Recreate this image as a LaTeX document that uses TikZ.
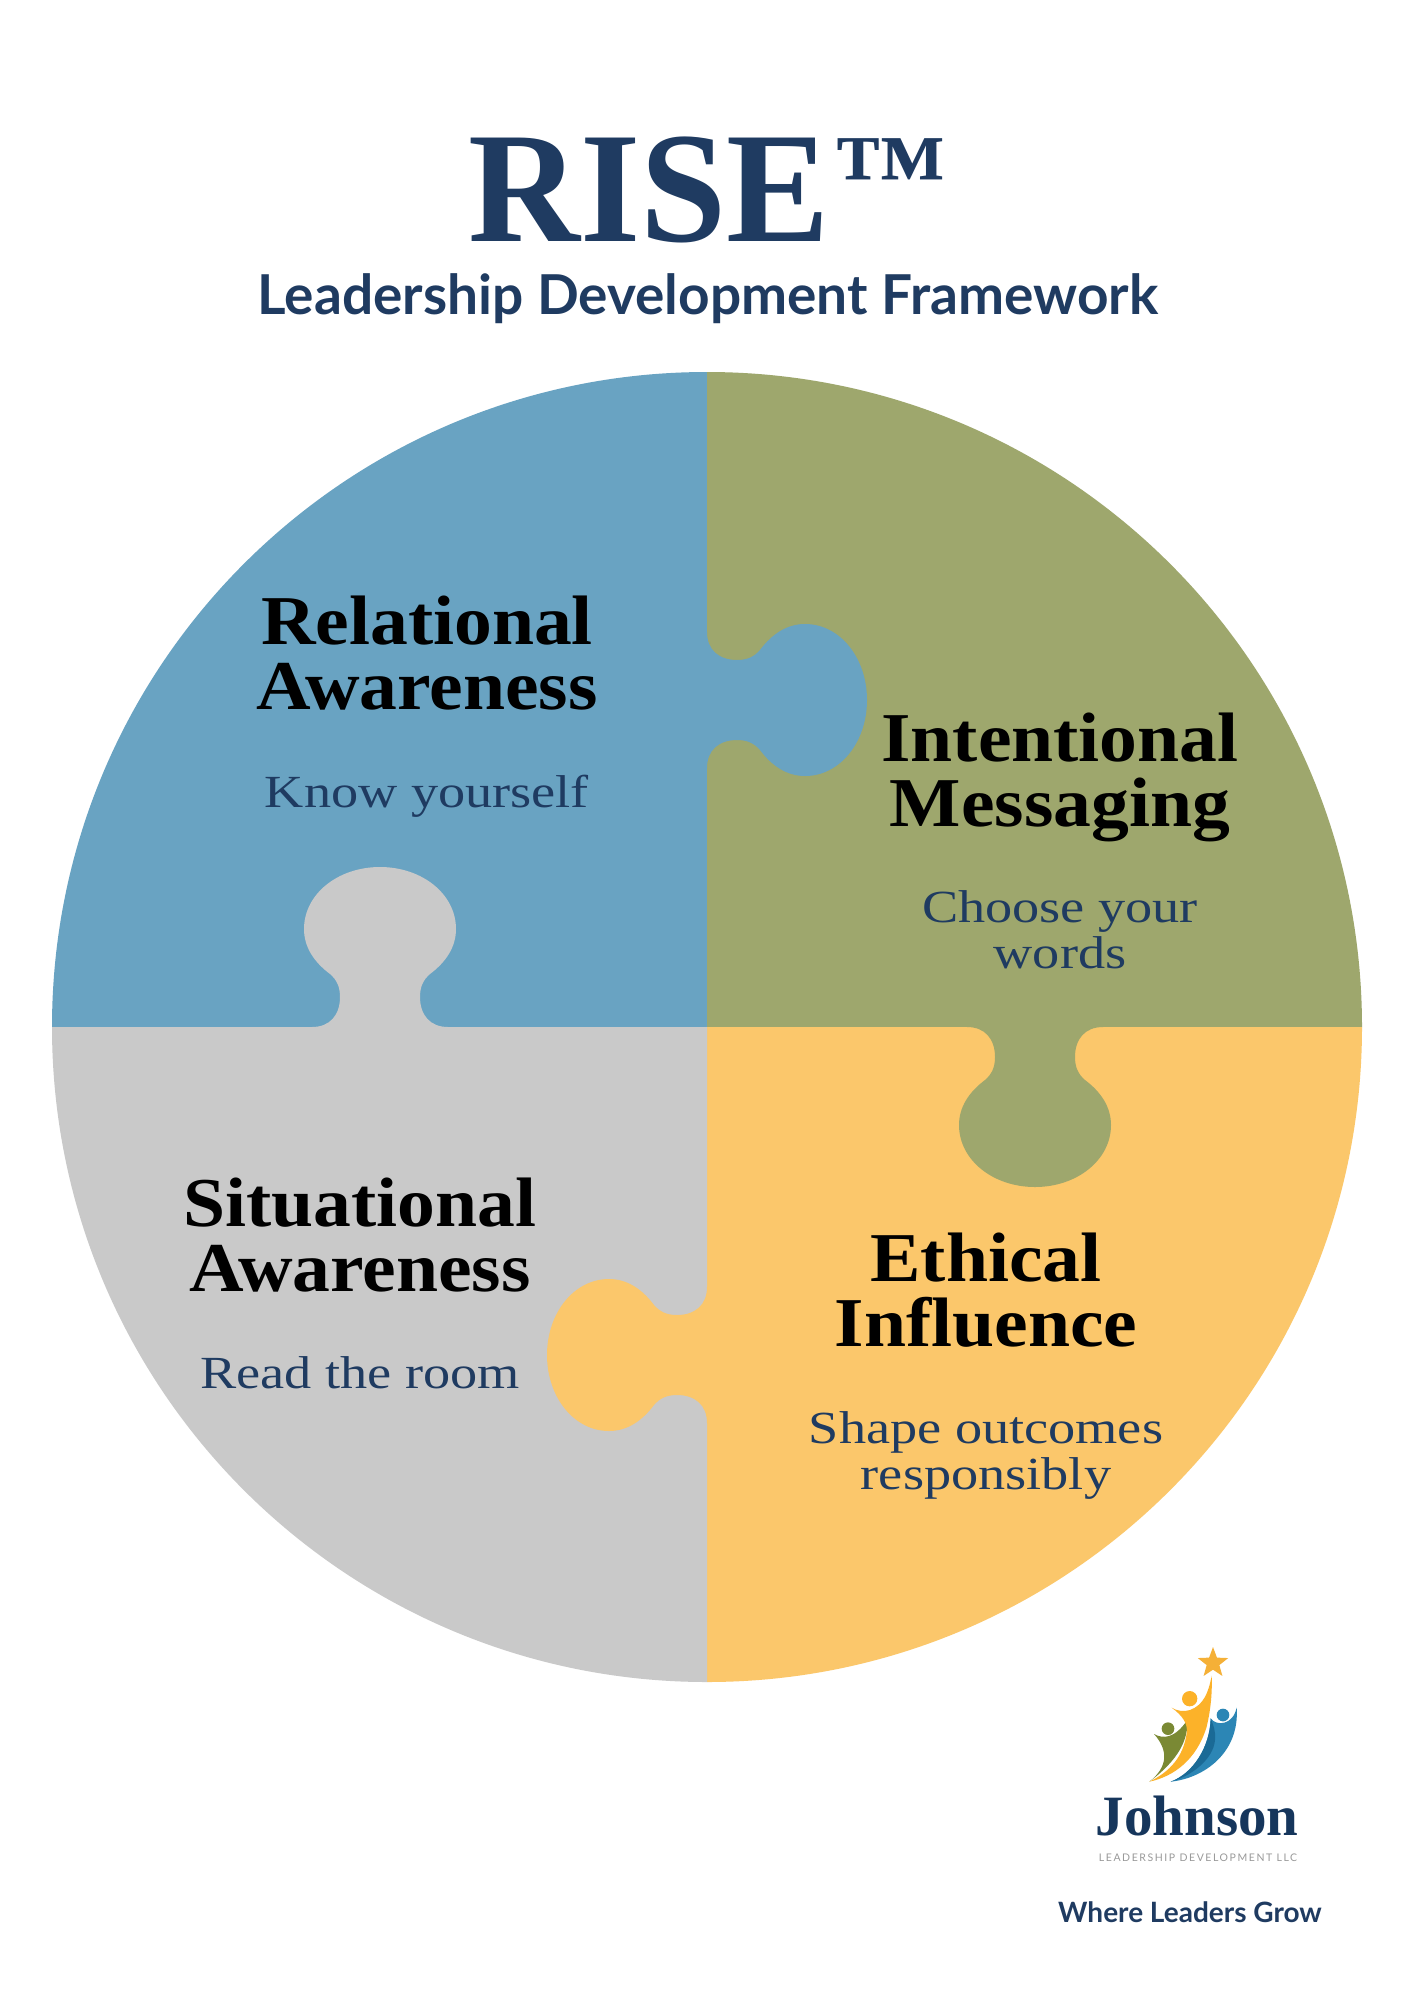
\documentclass[tikz,border=0pt]{standalone}
\usepackage{fontspec}
\usetikzlibrary{shapes.geometric}
\setmainfont{Liberation Serif}
\newfontfamily\titlefont[FakeStretch=0.98]{Liberation Serif}
\newfontfamily\tmfont[FakeStretch=1.08]{Liberation Serif}
\newfontfamily\headfont[FakeStretch=1.08]{Liberation Serif}
\newfontfamily\subfont[FakeStretch=1.18]{Liberation Serif}
\newfontfamily\johnsonfont{Liberation Serif}
\newfontfamily\latofont{Lato}
\newfontfamily\spacedfont[LetterSpace=15]{Lato}
\definecolor{navy}{HTML}{1F3B61}
\definecolor{logonavy}{HTML}{16365C}
\definecolor{pblue}{HTML}{69A3C2}
\definecolor{pgreen}{HTML}{9EA76D}
\definecolor{pyellow}{HTML}{FBC76B}
\definecolor{pgrey}{HTML}{C9C9C9}
\tikzset{
  headlabel/.style={anchor=base,align=center,text=black,inner sep=0pt,font=\headfont\bfseries\fontsize{70}{65}\selectfont},
  sublabel/.style={anchor=base,align=center,text=navy,inner sep=0pt,font=\subfont\fontsize{46}{45.5}\selectfont},
  lato/.style={anchor=base,text=navy,inner sep=0pt},
}
\newcommand{\puzzletab}[4]{%
  \fill[#4,shift={(#1,#2)},rotate=#3] (-1,-68) -- (0,-68)
    .. controls (0,-50) and (12,-40) .. (30,-40)
    .. controls (40,-40) and (47,-43) .. (53,-50)
    .. controls (65,-66) and (80,-76) .. (98,-76)
    .. controls (133,-76) and (160,-42) .. (160,0)
    .. controls (160,42) and (133,76) .. (98,76)
    .. controls (80,76) and (65,66) .. (53,50)
    .. controls (47,43) and (40,40) .. (30,40)
    .. controls (12,40) and (0,50) .. (0,68)
    -- (-1,68) -- cycle;}
\begin{document}
\begin{tikzpicture}[x=1pt,y=-1pt]
\useasboundingbox (0,0) rectangle (1414,2000);
\fill[white] (0,0) rectangle (1414,2000);
% quarters
\fill[pblue] (707,1027) -- (52,1027) arc[start angle=180,end angle=270,radius=655] -- cycle;
\fill[pgreen] (707,1027) -- (707,372) arc[start angle=270,end angle=360,radius=655] -- cycle;
\fill[pyellow] (707,1027) -- (1362,1027) arc[start angle=0,end angle=90,radius=655] -- cycle;
\fill[pgrey] (707,1027) -- (707,1682) arc[start angle=90,end angle=180,radius=655] -- cycle;
% tabs
\puzzletab{707}{700}{0}{pblue}
\puzzletab{380}{1027}{90}{pgrey}
\puzzletab{1035}{1027}{-90}{pgreen}
\puzzletab{707}{1355}{180}{pyellow}
% title
\node[anchor=base west,inner sep=0pt,text=navy] (title) at (468,241) {\titlefont\bfseries\fontsize{158}{158}\selectfont RISE\hspace{4pt}\raisebox{34pt}{\tmfont\fontsize{105}{105}\selectfont ™}};
\node[lato] (subtitle) at (708,314) {\latofont\bfseries\fontsize{55}{55}\selectfont Leadership Development Framework};
% labels
\node[headlabel] (h1) at (427,709) {Relational\\Awareness};
\node[sublabel] (s1) at (427,807) {Know yourself};
\node[headlabel] (h2) at (1060,826) {Intentional\\Messaging};
\node[sublabel] (s2) at (1060,968) {Choose your\\words};
\node[headlabel] (h3) at (360,1291) {Situational\\Awareness};
\node[sublabel] (s3) at (360,1388) {Read the room};
\node[headlabel] (h4) at (986,1346) {Ethical\\Influence};
\node[sublabel] (s4) at (986,1489) {Shape outcomes\\responsibly};
% logo
\begin{scope}[shift={(1040,1630)},scale=1/3]
  \fill[color={rgb,255:red,122;green,137;blue,52}] (342,312) .. controls (370,328) and (405,325) .. (442,270)
    .. controls (445,330) and (415,390) .. (328,455)
    .. controls (385,410) and (385,360) .. (342,312) -- cycle;
  \fill[color={rgb,255:red,252;green,178;blue,41}] (515,137) .. controls (505,190) and (490,225) .. (450,240)
    .. controls (430,246) and (412,243) .. (395,233)
    .. controls (425,255) and (445,280) .. (440,310)
    .. controls (430,380) and (390,425) .. (328,455)
    .. controls (400,440) and (470,390) .. (500,290)
    .. controls (512,240) and (517,190) .. (515,137) -- cycle;
  \fill[color={rgb,255:red,44;green,134;blue,181}] (590,232) .. controls (580,285) and (530,290) .. (512,265)
    .. controls (510,350) and (460,430) .. (392,455)
    .. controls (490,445) and (600,370) .. (590,232) -- cycle;
  \fill[color={rgb,255:red,26;green,106;blue,150}] (512,265) .. controls (510,350) and (460,430) .. (392,455)
    .. controls (450,440) and (520,390) .. (525,330)
    .. controls (528,305) and (520,285) .. (512,265) -- cycle;
  \fill[color={rgb,255:red,252;green,178;blue,41}] (449,206) circle[radius=23];
  \fill[color={rgb,255:red,122;green,137;blue,52}] (384,296) circle[radius=19];
  \fill[color={rgb,255:red,44;green,134;blue,181}] (549,255) circle[radius=19];
\end{scope}
\node[star,star points=5,star point ratio=2.4,fill={rgb,255:red,245;green,176;blue,55},inner sep=0pt,minimum size=32pt] (star) at (1213,1663) {};
\node[anchor=base,inner sep=0pt,text=logonavy] (johnson) at (1197,1835) {\johnsonfont\bfseries\fontsize{57}{57}\selectfont Johnson};
\node[anchor=base,inner sep=0pt,text=gray!80] (llc) at (1198,1861) {\spacedfont\fontsize{10.5}{10.5}\selectfont LEADERSHIP DEVELOPMENT LLC};
\node[lato] (tag) at (1190,1922) {\latofont\bfseries\fontsize{28}{28}\selectfont Where Leaders Grow};
\end{tikzpicture}
\end{document}
